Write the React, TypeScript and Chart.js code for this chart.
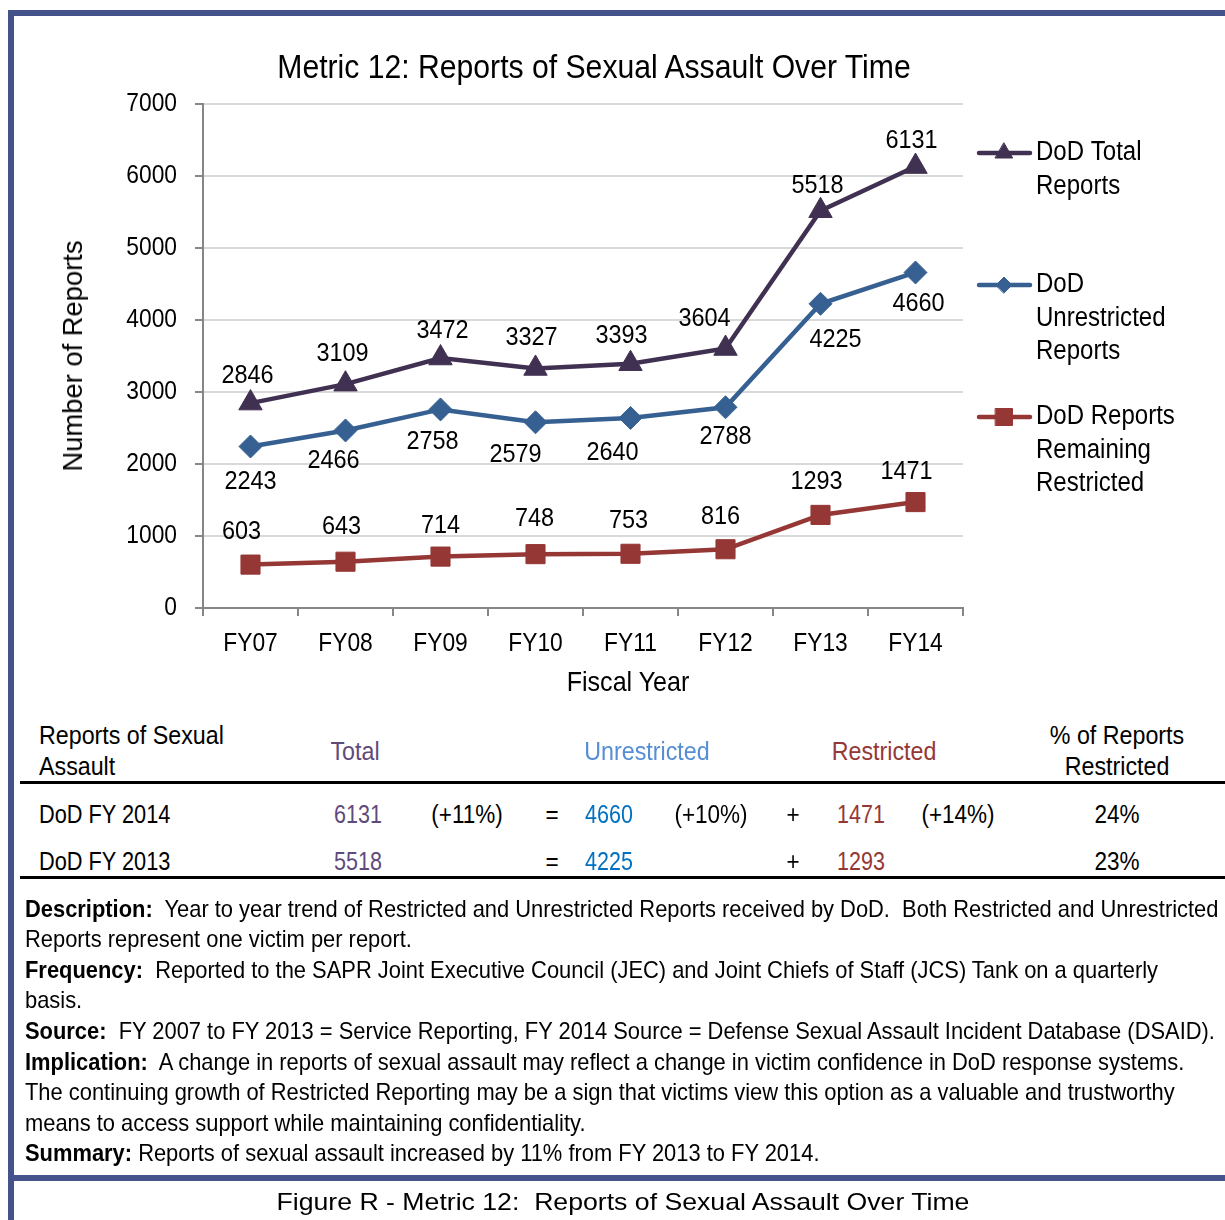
import React, { useEffect, useRef } from 'react';
import { Chart, registerables } from 'chart.js';
import { drawPoint } from 'chart.js/helpers';

Chart.register(...registerables);

// ---------- data ----------
const categories = ['FY07', 'FY08', 'FY09', 'FY10', 'FY11', 'FY12', 'FY13', 'FY14'];
const totalReports = [2846, 3109, 3472, 3327, 3393, 3604, 5518, 6131];
const unrestrictedReports = [2243, 2466, 2758, 2579, 2640, 2788, 4225, 4660];
const restrictedReports = [603, 643, 714, 748, 753, 816, 1293, 1471];
const seriesNames = [
  ['DoD Total', 'Reports'],
  ['DoD', 'Unrestricted', 'Reports'],
  ['DoD Reports', 'Remaining', 'Restricted'],
];
const yMin = 0;
const yMax = 7000;
const yStep = 1000;

const tableRowLabels = ['DoD FY 2014', 'DoD FY 2013'];
const tableTotal = ['6131', '5518'];
const tableTotalChange = ['(+11%)', ''];
const tableUnrestricted = ['4660', '4225'];
const tableUnrestrictedChange = ['(+10%)', ''];
const tableRestricted = ['1471', '1293'];
const tableRestrictedChange = ['(+14%)', ''];
const tablePctRestricted = ['24%', '23%'];

// ---------- styling ----------
const ARIAL = '"Liberation Sans", Arial, sans-serif';
const C_TOTAL = '#403152';
const C_UNR = '#376092';
const C_RES = '#953735';
const FRAME = '#44548b';

// label offsets (dx, dy) per point, per series
const labelOffsets = [
  [[-3, -27], [-3, -30], [2, -27], [-4, -30], [-9, -28], [-21, -30], [-3, -25], [-4, -26]],
  [[0, 35], [-12, 31], [-8, 33], [-20, 33], [-18, 35], [0, 30], [15, 36], [3, 31]],
  [[-9, -33], [-4, -35], [0, -31], [-1, -35], [-2, -33], [-5, -32], [-4, -33], [-9, -30]],
];
const legendY = [153, 285, 417];
const legendMarkerRadius = [10, 8, 12];

function nText(ctx: CanvasRenderingContext2D, text: string, x: number, y: number, size: number, sx: number, align: CanvasTextAlign) {
  ctx.save();
  ctx.font = `${size}px ${ARIAL}`;
  ctx.textAlign = align;
  ctx.textBaseline = 'middle';
  ctx.fillStyle = '#000';
  ctx.translate(x, y);
  ctx.scale(sx, 1);
  ctx.fillText(text, 0, 0);
  ctx.restore();
}

const tickLabelPlugin = {
  id: 'narrowTicks',
  afterDraw(chart: any) {
    const ctx = chart.ctx;
    const xs = chart.scales.x;
    const ys = chart.scales.y;
    xs.ticks.forEach((t: any, i: number) => {
      nText(ctx, String(t.label), xs.getPixelForTick(i), 644, 26.5, 0.86, 'center');
    });
    ys.ticks.forEach((t: any, i: number) => {
      nText(ctx, String(t.value), ys.left + ys.width - 26, ys.getPixelForTick(i), 26.5, 0.86, 'right');
    });
  },
};

const dataLabelPlugin = {
  id: 'dataLabels',
  afterDatasetsDraw(chart: any) {
    const ctx = chart.ctx;
    chart.data.datasets.forEach((ds: any, i: number) => {
      const meta = chart.getDatasetMeta(i);
      meta.data.forEach((pt: any, j: number) => {
        const [dx, dy] = labelOffsets[i][j];
        nText(ctx, String(ds.data[j]), pt.x + dx, pt.y + dy, 25.5, 0.92, 'center');
      });
    });
  },
};

const sideLegendPlugin = {
  id: 'sideLegend',
  afterDraw(chart: any) {
    const ctx = chart.ctx;
    chart.data.datasets.forEach((ds: any, i: number) => {
      const y = legendY[i];
      ctx.save();
      ctx.strokeStyle = ds.borderColor;
      ctx.lineWidth = 4.5;
      ctx.lineCap = 'round';
      ctx.beginPath();
      ctx.moveTo(979, y);
      ctx.lineTo(1030, y);
      ctx.stroke();
      ctx.fillStyle = ds.pointBackgroundColor;
      ctx.strokeStyle = ds.pointBorderColor;
      ctx.lineWidth = 1;
      drawPoint(ctx, { pointStyle: ds.pointStyle, radius: legendMarkerRadius[i], rotation: 0, borderWidth: 1 } as any, 1004, y);
      ctx.restore();
      seriesNames[i].forEach((line, k) => {
        nText(ctx, line, 1036, y + k * 33.5, 27, 0.89, 'left');
      });
    });
  },
};

function T(props: {
  x: number; y: number; size: number; children: any; align?: 'left' | 'center' | 'right';
  bold?: boolean; color?: string; font?: string; sx?: number;
}) {
  const { x, y, size, children, align = 'left', bold, color = '#000', font = ARIAL, sx = 0.9 } = props;
  const tr = align === 'center' ? `scaleX(${sx}) translateX(-50%)` : align === 'right' ? `scaleX(${sx}) translateX(-100%)` : `scaleX(${sx})`;
  return (
    <div
      style={{
        position: 'absolute', left: x, top: y - size, height: size * 2, lineHeight: `${size * 2}px`,
        fontSize: size, fontFamily: font, fontWeight: bold ? 700 : 400, color, whiteSpace: 'pre',
        transform: tr, transformOrigin: '0 0',
      }}
    >
      {children}
    </div>
  );
}

function ChartCanvas() {
  const ref = useRef<HTMLCanvasElement | null>(null);
  useEffect(() => {
    if (!ref.current) return;
    const mk = (label: string, data: number[], color: string, style: string, radius: number) => ({
      label, data, borderColor: color, backgroundColor: color, pointBackgroundColor: color,
      pointBorderColor: color, pointStyle: style, pointRadius: radius, pointBorderWidth: 1,
      borderWidth: 4.5, tension: 0, fill: false,
    });
    const chart = new Chart(ref.current, {
      type: 'line',
      data: {
        labels: categories,
        datasets: [
          mk('DoD Total Reports', totalReports, C_TOTAL, 'triangle', 13.5),
          mk('DoD Unrestricted Reports', unrestrictedReports, C_UNR, 'rectRot', 11.5),
          mk('DoD Reports Remaining Restricted', restrictedReports, C_RES, 'rect', 13.5),
        ] as any,
      },
      options: {
        animation: false,
        responsive: false,
        layout: { padding: { left: 0, right: 262, top: 104, bottom: 0 } },
        plugins: { legend: { display: false }, tooltip: { enabled: false }, title: { display: false } },
        scales: {
          x: {
            type: 'category',
            offset: true,
            grid: { display: true, drawOnChartArea: false, drawTicks: true, tickLength: 8, offset: true, color: '#868686', lineWidth: 2 },
            border: { display: true, color: '#868686', width: 2 },
            ticks: { display: false, autoSkip: false, maxRotation: 0 },
            afterFit: (s: any) => { s.height = 92; },
          },
          y: {
            min: yMin,
            max: yMax,
            ticks: { display: false, stepSize: yStep },
            grid: { color: '#d9d9d9', lineWidth: 2, tickLength: 8, tickColor: '#868686', drawTicks: true },
            border: { color: '#868686', width: 2 },
            afterFit: (s: any) => { s.width = 203; },
          },
        },
      } as any,
      plugins: [tickLabelPlugin, dataLabelPlugin, sideLegendPlugin],
    });
    return () => chart.destroy();
  }, []);
  return (
    <canvas ref={ref} width={1225} height={700}
      style={{ position: 'absolute', left: 0, top: 0, width: 1225, height: 700 }} />
  );
}

const descLines: Array<[string, string, number]> = [
  ['Description:', '  Year to year trend of Restricted and Unrestricted Reports received by DoD.  Both Restricted and Unrestricted', 909],
  ['', 'Reports represent one victim per report.', 939],
  ['Frequency:', '  Reported to the SAPR Joint Executive Council (JEC) and Joint Chiefs of Staff (JCS) Tank on a quarterly', 970],
  ['', 'basis.', 1000],
  ['Source:', '  FY 2007 to FY 2013 = Service Reporting, FY 2014 Source = Defense Sexual Assault Incident Database (DSAID).', 1031],
  ['Implication:', '  A change in reports of sexual assault may reflect a change in victim confidence in DoD response systems.', 1062],
  ['', 'The continuing growth of Restricted Reporting may be a sign that victims view this option as a valuable and trustworthy', 1092],
  ['', 'means to access support while maintaining confidentiality.', 1123],
  ['Summary:', ' Reports of sexual assault increased by 11% from FY 2013 to FY 2014.', 1153],
];

export default function App() {
  const rowY = [814, 861];
  const fs = 25;
  const tsx = 0.9;
  return (
    <div style={{ position: 'absolute', left: 0, top: 0, width: 1225, height: 1220, overflow: 'hidden', background: '#fff' }}>
      <ChartCanvas />
      {/* frame */}
      <div style={{ position: 'absolute', left: 8, top: 10, width: 1217, height: 6, background: FRAME }} />
      <div style={{ position: 'absolute', left: 8, top: 10, width: 6, height: 1210, background: FRAME }} />
      <div style={{ position: 'absolute', left: 8, top: 1175, width: 1217, height: 6, background: FRAME }} />

      {/* chart texts */}
      <T x={594} y={66} size={33.5} sx={0.9} align="center">Metric 12: Reports of Sexual Assault Over Time</T>
      <div style={{ position: 'absolute', left: 72, top: 356, transform: 'translate(-50%, -50%) rotate(-90deg) scaleX(0.96)', fontFamily: ARIAL, fontSize: 28.5, whiteSpace: 'pre', lineHeight: '34px' }}>
        Number of Reports
      </div>
      <T x={628} y={681} size={28.5} sx={0.88} align="center">Fiscal Year</T>

      {/* table */}
      <T x={39} y={735} size={fs} sx={0.93}>Reports of Sexual</T>
      <T x={39} y={766} size={fs} sx={0.93}>Assault</T>
      <T x={355} y={751} size={fs} sx={0.93} align="center" color="#604a7b">Total</T>
      <T x={647} y={751} size={fs} sx={0.93} align="center" color="#558ed5">Unrestricted</T>
      <T x={884} y={751} size={fs} sx={0.93} align="center" color="#953735">Restricted</T>
      <T x={1117} y={735} size={fs} sx={0.93} align="center">% of Reports</T>
      <T x={1117} y={766} size={fs} sx={0.93} align="center">Restricted</T>
      <div style={{ position: 'absolute', left: 20, top: 781, width: 1205, height: 3, background: '#000' }} />
      {tableRowLabels.map((lab, i) => (
        <React.Fragment key={lab}>
          <T x={39} y={rowY[i]} size={fs} sx={0.87}>{lab}</T>
          <T x={358} y={rowY[i]} size={fs} sx={0.86} align="center" color="#604a7b">{tableTotal[i]}</T>
          <T x={467} y={rowY[i]} size={fs} sx={tsx} align="center">{tableTotalChange[i]}</T>
          <T x={552} y={rowY[i]} size={fs} sx={tsx} align="center">=</T>
          <T x={609} y={rowY[i]} size={fs} sx={0.86} align="center" color="#0070c0">{tableUnrestricted[i]}</T>
          <T x={711} y={rowY[i]} size={fs} sx={tsx} align="center">{tableUnrestrictedChange[i]}</T>
          <T x={793} y={rowY[i]} size={fs} sx={tsx} align="center">+</T>
          <T x={861} y={rowY[i]} size={fs} sx={0.86} align="center" color="#953735">{tableRestricted[i]}</T>
          <T x={958} y={rowY[i]} size={fs} sx={tsx} align="center">{tableRestrictedChange[i]}</T>
          <T x={1117} y={rowY[i]} size={fs} sx={tsx} align="center">{tablePctRestricted[i]}</T>
        </React.Fragment>
      ))}
      <div style={{ position: 'absolute', left: 20, top: 876, width: 1205, height: 3, background: '#000' }} />

      {/* description */}
      {descLines.map(([b, t, y], i) => (
        <T key={i} x={25} y={y} size={24} sx={0.912}>
          {b ? <b>{b}</b> : null}{t}
        </T>
      ))}

      {/* caption */}
      <T x={623} y={1202} size={24} sx={1.11} align="center">Figure R - Metric 12:  Reports of Sexual Assault Over Time</T>
    </div>
  );
}
